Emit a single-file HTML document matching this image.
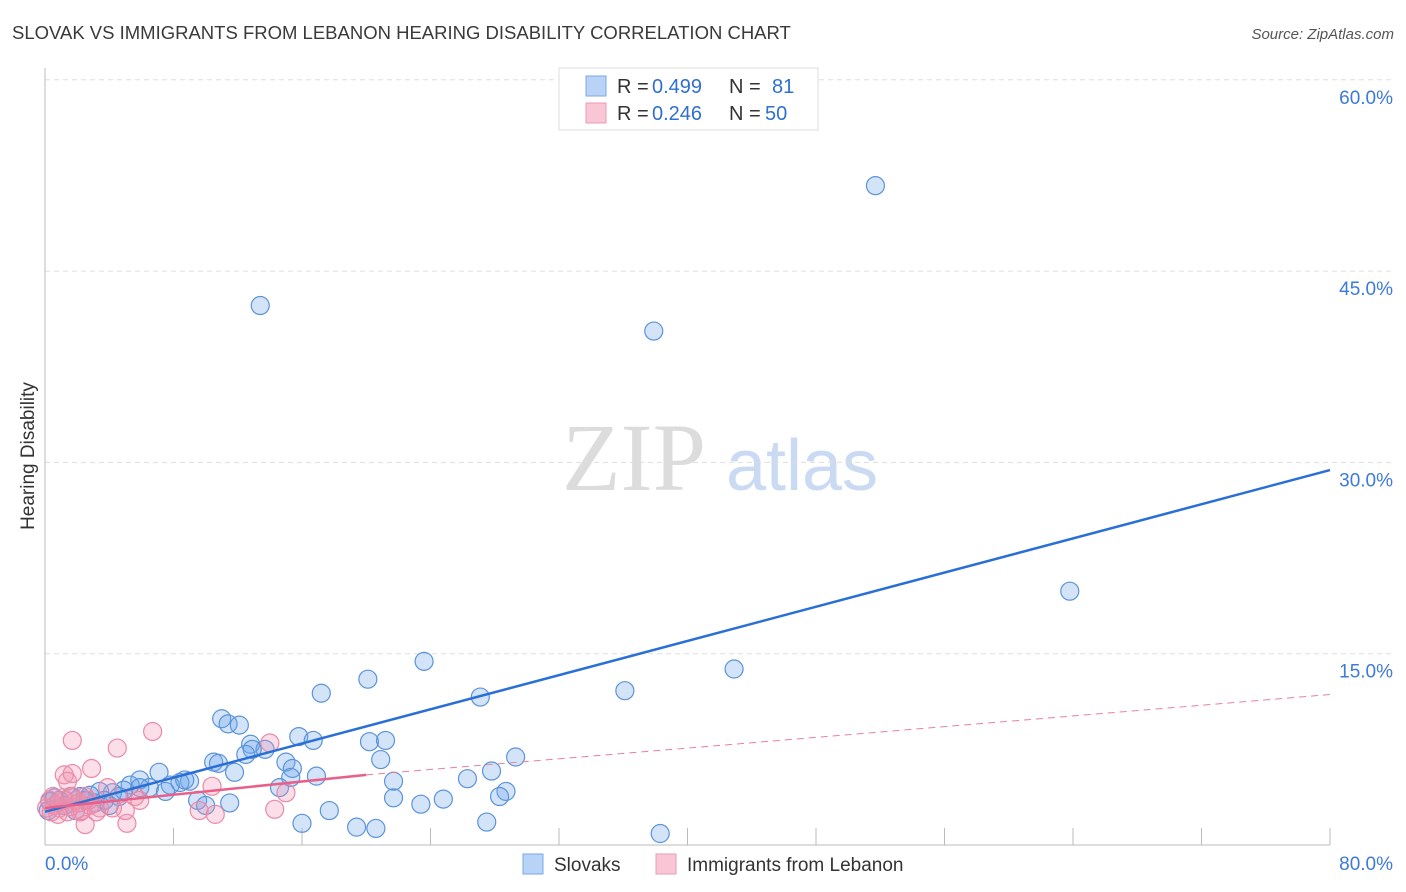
<!DOCTYPE html>
<html><head><meta charset="utf-8"><style>
body{margin:0;background:#fff;font-family:"Liberation Sans",sans-serif}
</style></head><body>
<svg id="c" width="1406" height="892" xmlns="http://www.w3.org/2000/svg" style="display:block">
<text x="12" y="39" font-size="18.5" fill="#3a3a3a">SLOVAK VS IMMIGRANTS FROM LEBANON HEARING DISABILITY CORRELATION CHART</text>
<text x="1394" y="39" font-size="15" fill="#555" font-style="italic" text-anchor="end">Source: ZipAtlas.com</text>
<text transform="translate(34,456) rotate(-90)" font-size="19" fill="#333" text-anchor="middle">Hearing Disability</text>
<g><text x="634" y="490" font-size="96" font-family="Liberation Serif,serif" fill="#dcdcdc" text-anchor="middle">ZIP</text><text x="802" y="490" font-size="72" fill="#c9daf2" text-anchor="middle">atlas</text></g>
<g id="grid"></g><g id="marks"></g>
<g>
<rect x="559" y="68" width="259" height="62" fill="#fff" stroke="#ddd"/>
<rect x="586" y="76" width="20" height="20" fill="#b8d3f5" stroke="#7aa8e3"/>
<rect x="586" y="103" width="20" height="20" fill="#f9c6d5" stroke="#eb9ab3"/>
<text x="617" y="93" font-size="20" fill="#333">R =</text><text x="652" y="93" font-size="20" fill="#2f6fd0">0.499</text><text x="729" y="93" font-size="20" fill="#333">N =</text><text x="772" y="93" font-size="20" fill="#2f6fd0">81</text>
<text x="617" y="120" font-size="20" fill="#333">R =</text><text x="652" y="120" font-size="20" fill="#2f6fd0">0.246</text><text x="729" y="120" font-size="20" fill="#333">N =</text><text x="765" y="120" font-size="20" fill="#2f6fd0">50</text>
</g>
<g>
<rect x="523" y="854" width="20" height="20" fill="#b8d3f5" stroke="#7aa8e3"/><text x="554" y="871" font-size="19" fill="#333">Slovaks</text>
<rect x="656" y="854" width="20" height="20" fill="#f9c6d5" stroke="#eb9ab3"/><text x="687" y="871" font-size="19" fill="#333">Immigrants from Lebanon</text>
</g>
</svg>
<script>
const xTicks=[0,8,16,24,32,40,48,56,64,72,80];
const yTicks=[15,30,45,60];
const yTickLabels=["15.0%","30.0%","45.0%","60.0%"];
const slovakX=[51.7,13.4,37.9,63.8,42.9,36.1,23.6,20.1,27.1,17.2,11.0,11.4,12.1,15.8,16.7,20.2,21.2,12.8,13.7,12.9,12.5,10.5,10.8,20.9,29.3,15.0,15.4,11.8,7.1,16.9,15.3,27.8,26.3,21.7,14.6,9.0,8.4,7.8,5.9,5.3,6.5,7.5,4.9,4.2,3.4,2.8,2.2,1.6,0.9,0.3,0.2,4.6,3.7,9.5,11.5,10.0,21.7,24.8,23.4,28.7,28.3,17.7,16.0,19.4,20.6,27.5,38.3,0.6,1.2,2.5,3.1,1.9,4.0,8.7,5.9];
const slovakY=[51.7,42.3,40.3,19.9,13.8,12.1,14.4,13.0,11.6,11.9,9.9,9.5,9.4,8.5,8.2,8.1,8.2,7.9,7.5,7.5,7.1,6.5,6.4,6.7,6.9,6.5,6.0,5.7,5.7,5.4,5.3,5.8,5.2,5.0,4.5,5.0,4.9,4.7,5.1,4.7,4.5,4.2,4.3,4.1,4.2,3.9,3.8,3.8,3.5,3.4,2.7,3.8,3.5,3.5,3.3,3.1,3.7,3.6,3.2,4.2,3.8,2.7,1.7,1.4,1.3,1.8,0.9,3.7,3.1,3.5,3.3,2.7,3.1,5.1,4.5];
const lebX=[6.7,1.7,4.5,14.0,2.9,1.2,1.7,1.4,3.9,5.6,10.4,15.0,9.6,10.6,14.3,5.1,2.5,4.2,2.2,0.3,0.6,0.9,1.2,1.6,1.9,0.4,0.8,1.1,1.4,2.1,2.5,2.8,3.4,0.1,0.5,1.7,2.3,5.0,5.9,3.2,2.7];
const lebY=[8.9,8.2,7.6,8.0,6.0,5.5,5.6,5.0,4.5,3.8,4.6,4.1,2.7,2.4,2.8,1.7,1.6,2.9,2.6,3.5,3.1,2.9,3.5,3.0,3.5,2.6,2.4,3.7,2.6,3.3,3.8,3.1,2.9,2.9,3.8,3.8,2.7,2.7,3.5,2.6,3.5];
const slovakTrend=[2.6,29.4];
const lebTrend=[2.9,5.5,11.8];
const X=v=>45+v*1285/80, Y=v=>845-v*191.3/15;
const NS="http://www.w3.org/2000/svg";
function mk(p,t,a){const e=document.createElementNS(NS,t);for(const k in a)e.setAttribute(k,a[k]);p.appendChild(e);return e;}
const g=document.getElementById('grid'),m=document.getElementById('marks');
yTicks.forEach((t,i)=>{const l=mk(g,'line',{x1:45,x2:1394,y1:Y(t),y2:Y(t),stroke:'#ddd','stroke-dasharray':'5,4'});


const tx=mk(g,'text',{x:1393,y:Y(t)+24,'font-size':19,fill:'#3d7bd6','text-anchor':'end'});tx.textContent=yTickLabels[i];

});
const ax=mk(g,'line',{x1:45,x2:1330,y1:845,y2:845,stroke:'#bbb'});


const ay=mk(g,'line',{x1:45,x2:45,y1:68,y2:845,stroke:'#bbb'});


xTicks.slice(1).forEach(t=>{const l=mk(g,'line',{x1:X(t),x2:X(t),y1:828,y2:845,stroke:'#bbb'});

});
[[0,'0.0%','start',45],[80,'80.0%','end',1393]].forEach(d=>{const t=mk(g,'text',{x:d[3],y:870,'font-size':19,fill:'#3d7bd6','text-anchor':d[2]});t.textContent=d[1];

});
slovakX.forEach((v,i)=>{const c=mk(m,'circle',{cx:X(v),cy:Y(slovakY[i]),r:9,fill:'rgba(110,165,235,0.3)',stroke:'#5b93d9','stroke-width':1.2});

});
lebX.forEach((v,i)=>{const c=mk(m,'circle',{cx:X(v),cy:Y(lebY[i]),r:9,fill:'rgba(242,145,175,0.3)',stroke:'#e88aa8','stroke-width':1.2});

});
const l1=mk(m,'line',{x1:X(0),y1:Y(slovakTrend[0]),x2:X(80),y2:Y(slovakTrend[1]),stroke:'#2a6fd6','stroke-width':2.5});


const l2=mk(m,'line',{x1:X(0),y1:Y(lebTrend[0]),x2:X(20),y2:Y(lebTrend[1]),stroke:'#e8608a','stroke-width':2.5});


const l3=mk(m,'line',{x1:X(20),y1:Y(lebTrend[1]),x2:X(80),y2:Y(lebTrend[2]),stroke:'#e8809f','stroke-width':1,'stroke-dasharray':'7,5'});


</script>
</body></html>
